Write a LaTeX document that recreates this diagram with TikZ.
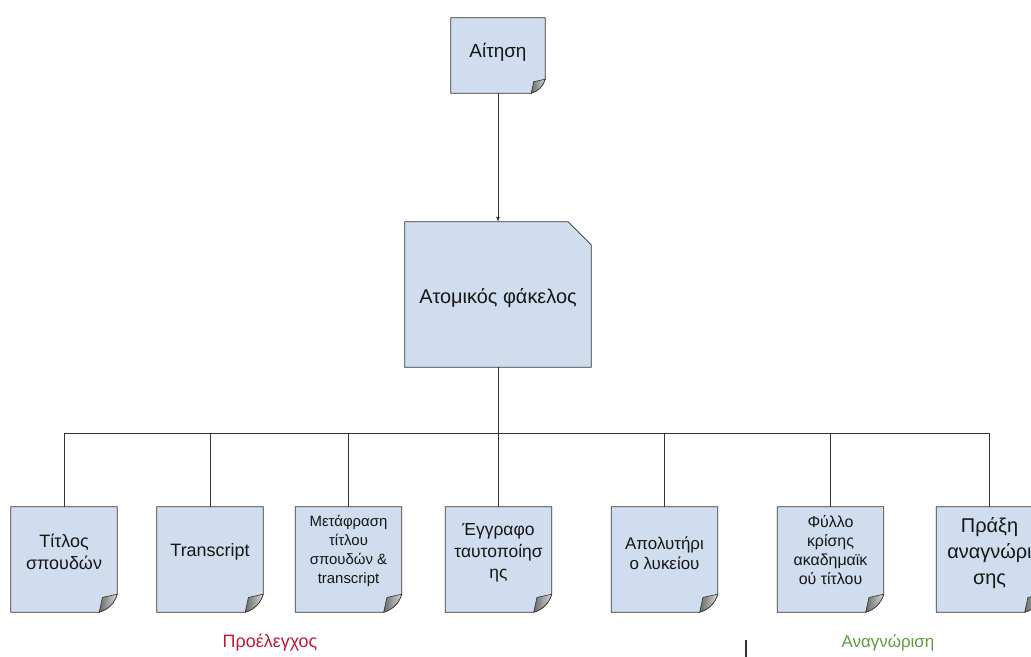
\documentclass[tikz,border=0pt]{standalone}
\usepackage{fontspec}
\setmainfont{Liberation Sans}
\usetikzlibrary{arrows.meta,calc}
\definecolor{boxfill}{HTML}{CFDDEE}
\definecolor{boxline}{HTML}{333333}
\definecolor{txt}{HTML}{161616}
\definecolor{curldark}{HTML}{6A6A6A}
\definecolor{curllight}{HTML}{D8D8D8}
\definecolor{redlab}{HTML}{C0183A}
\definecolor{greenlab}{HTML}{5E9E3A}
\newcommand\curlbox[2][18]{%
  \filldraw[draw=boxline, fill=boxfill, line width=0.8bp]
    (#2.north west) -- (#2.north east) -- ([yshift=#1bp]#2.south east)
    .. controls ([xshift={-0.15*#1bp},yshift={0.5*#1bp}]#2.south east)
       and ([xshift={-0.5*#1bp},yshift={0.15*#1bp}]#2.south east) ..
    ([xshift=-#1bp]#2.south east) -- (#2.south west) -- cycle;
  \shadedraw[left color=curldark, right color=curllight, draw=boxline, line width=0.6bp]
    ([yshift=#1bp]#2.south east) -- ([xshift={-0.82*#1bp},yshift={0.82*#1bp}]#2.south east)
    -- ([xshift=-#1bp]#2.south east)
    .. controls ([xshift={-0.5*#1bp},yshift={0.15*#1bp}]#2.south east)
       and ([xshift={-0.15*#1bp},yshift={0.5*#1bp}]#2.south east) .. cycle;
}
\tikzset{
  doc/.style={minimum width=106bp, minimum height=105bp, inner sep=0pt, draw=none},
  doctext/.style={align=center, text=txt, inner sep=0pt},
  link/.style={draw=boxline, line width=0.8bp},
}
\begin{document}
\begin{tikzpicture}[x=1bp,y=-1bp]
\clip (0,0) rectangle (1031,657);
\fill[white] (0,0) rectangle (1031,657);

% top document
\node[doc, minimum width=94bp, minimum height=75bp] (ait) at (498,55.5) {};
\curlbox[14]{ait}
\node[doctext, font=\fontsize{19}{22}\selectfont] (aitt) at (498,52) {Αίτηση};

% folder
\node[draw=none, minimum width=186bp, minimum height=145bp, inner sep=0pt] (atom) at (498,294.5) {};
\filldraw[draw=boxline, fill=boxfill, line width=0.8bp]
  (atom.north west) -- ([xshift=-23bp]atom.north east) -- ([yshift=-23bp]atom.north east)
  -- (atom.south east) -- (atom.south west) -- cycle;
\node[doctext, font=\fontsize{20}{24}\selectfont] (atomt) at (498,298) {Ατομικός φάκελος};

\draw[link, -{Latex[length=5bp,width=4bp]}] (ait.south) -- (atom.north);

% children
\node[doc] (t1) at (64,559.5) {};
\node[doc] (t2) at (210,559.5) {};
\node[doc] (t3) at (348.5,559.5) {};
\node[doc] (t4) at (498.5,559.5) {};
\node[doc] (t5) at (664.5,559.5) {};
\node[doc] (t6) at (830.5,559.5) {};
\node[doc] (t7) at (989.5,559.5) {};
\foreach \n in {t1,t2,t3,t4,t5,t6,t7} {\curlbox{\n}}

\node[doctext, font=\fontsize{18}{22}\selectfont] (t1t) at (64,551.5) {Τίτλος\\σπουδών};
\node[doctext, font=\fontsize{18}{22}\selectfont] (t2t) at (210,552) {Transcript};
\node[doctext, font=\fontsize{15}{19}\selectfont] (t3t) at (348.5,551) {Μετάφραση\\τίτλου\\σπουδών \&\\transcript};
\node[doctext, font=\fontsize{17.5}{21.5}\selectfont] (t4t) at (498.5,553) {Έγγραφο\\ταυτοποίησ\\ης};
\node[doctext, font=\fontsize{17}{20}\selectfont] (t5t) at (664.5,553) {Απολυτήρι\\ο λυκείου};
\node[doctext, font=\fontsize{16}{19}\selectfont] (t6t) at (830.5,550) {Φύλλο\\κρίσης\\ακαδημαϊκ\\ού τίτλου};
\node[doctext, font=\fontsize{20}{26}\selectfont] (t7t) at (989.5,553) {Πράξη\\αναγνώρι\\σης};

% tree connectors
\coordinate (bus) at (498,433);
\draw[link] (atom.south) -- (bus);
\draw[link] (t1.north) -- (t1.north |- bus) -- (t7.north |- bus) -- (t7.north);
\foreach \n in {t2,t3,t4,t5,t6} {\draw[link] (\n.north) -- (\n.north |- bus);}

% bottom labels
\node[text=redlab, font=\fontsize{18}{22}\selectfont, inner sep=0pt] (pre) at (270,643) {Προέλεγχος};
\node[text=greenlab, font=\fontsize{17}{21}\selectfont, inner sep=0pt] (ana) at (888,643) {Αναγνώριση};
\coordinate (septop) at (746,640);
\coordinate (sepbot) at (746,660);
\draw[draw=boxline, line width=1.4bp] (septop) -- (sepbot);
\end{tikzpicture}
\end{document}
